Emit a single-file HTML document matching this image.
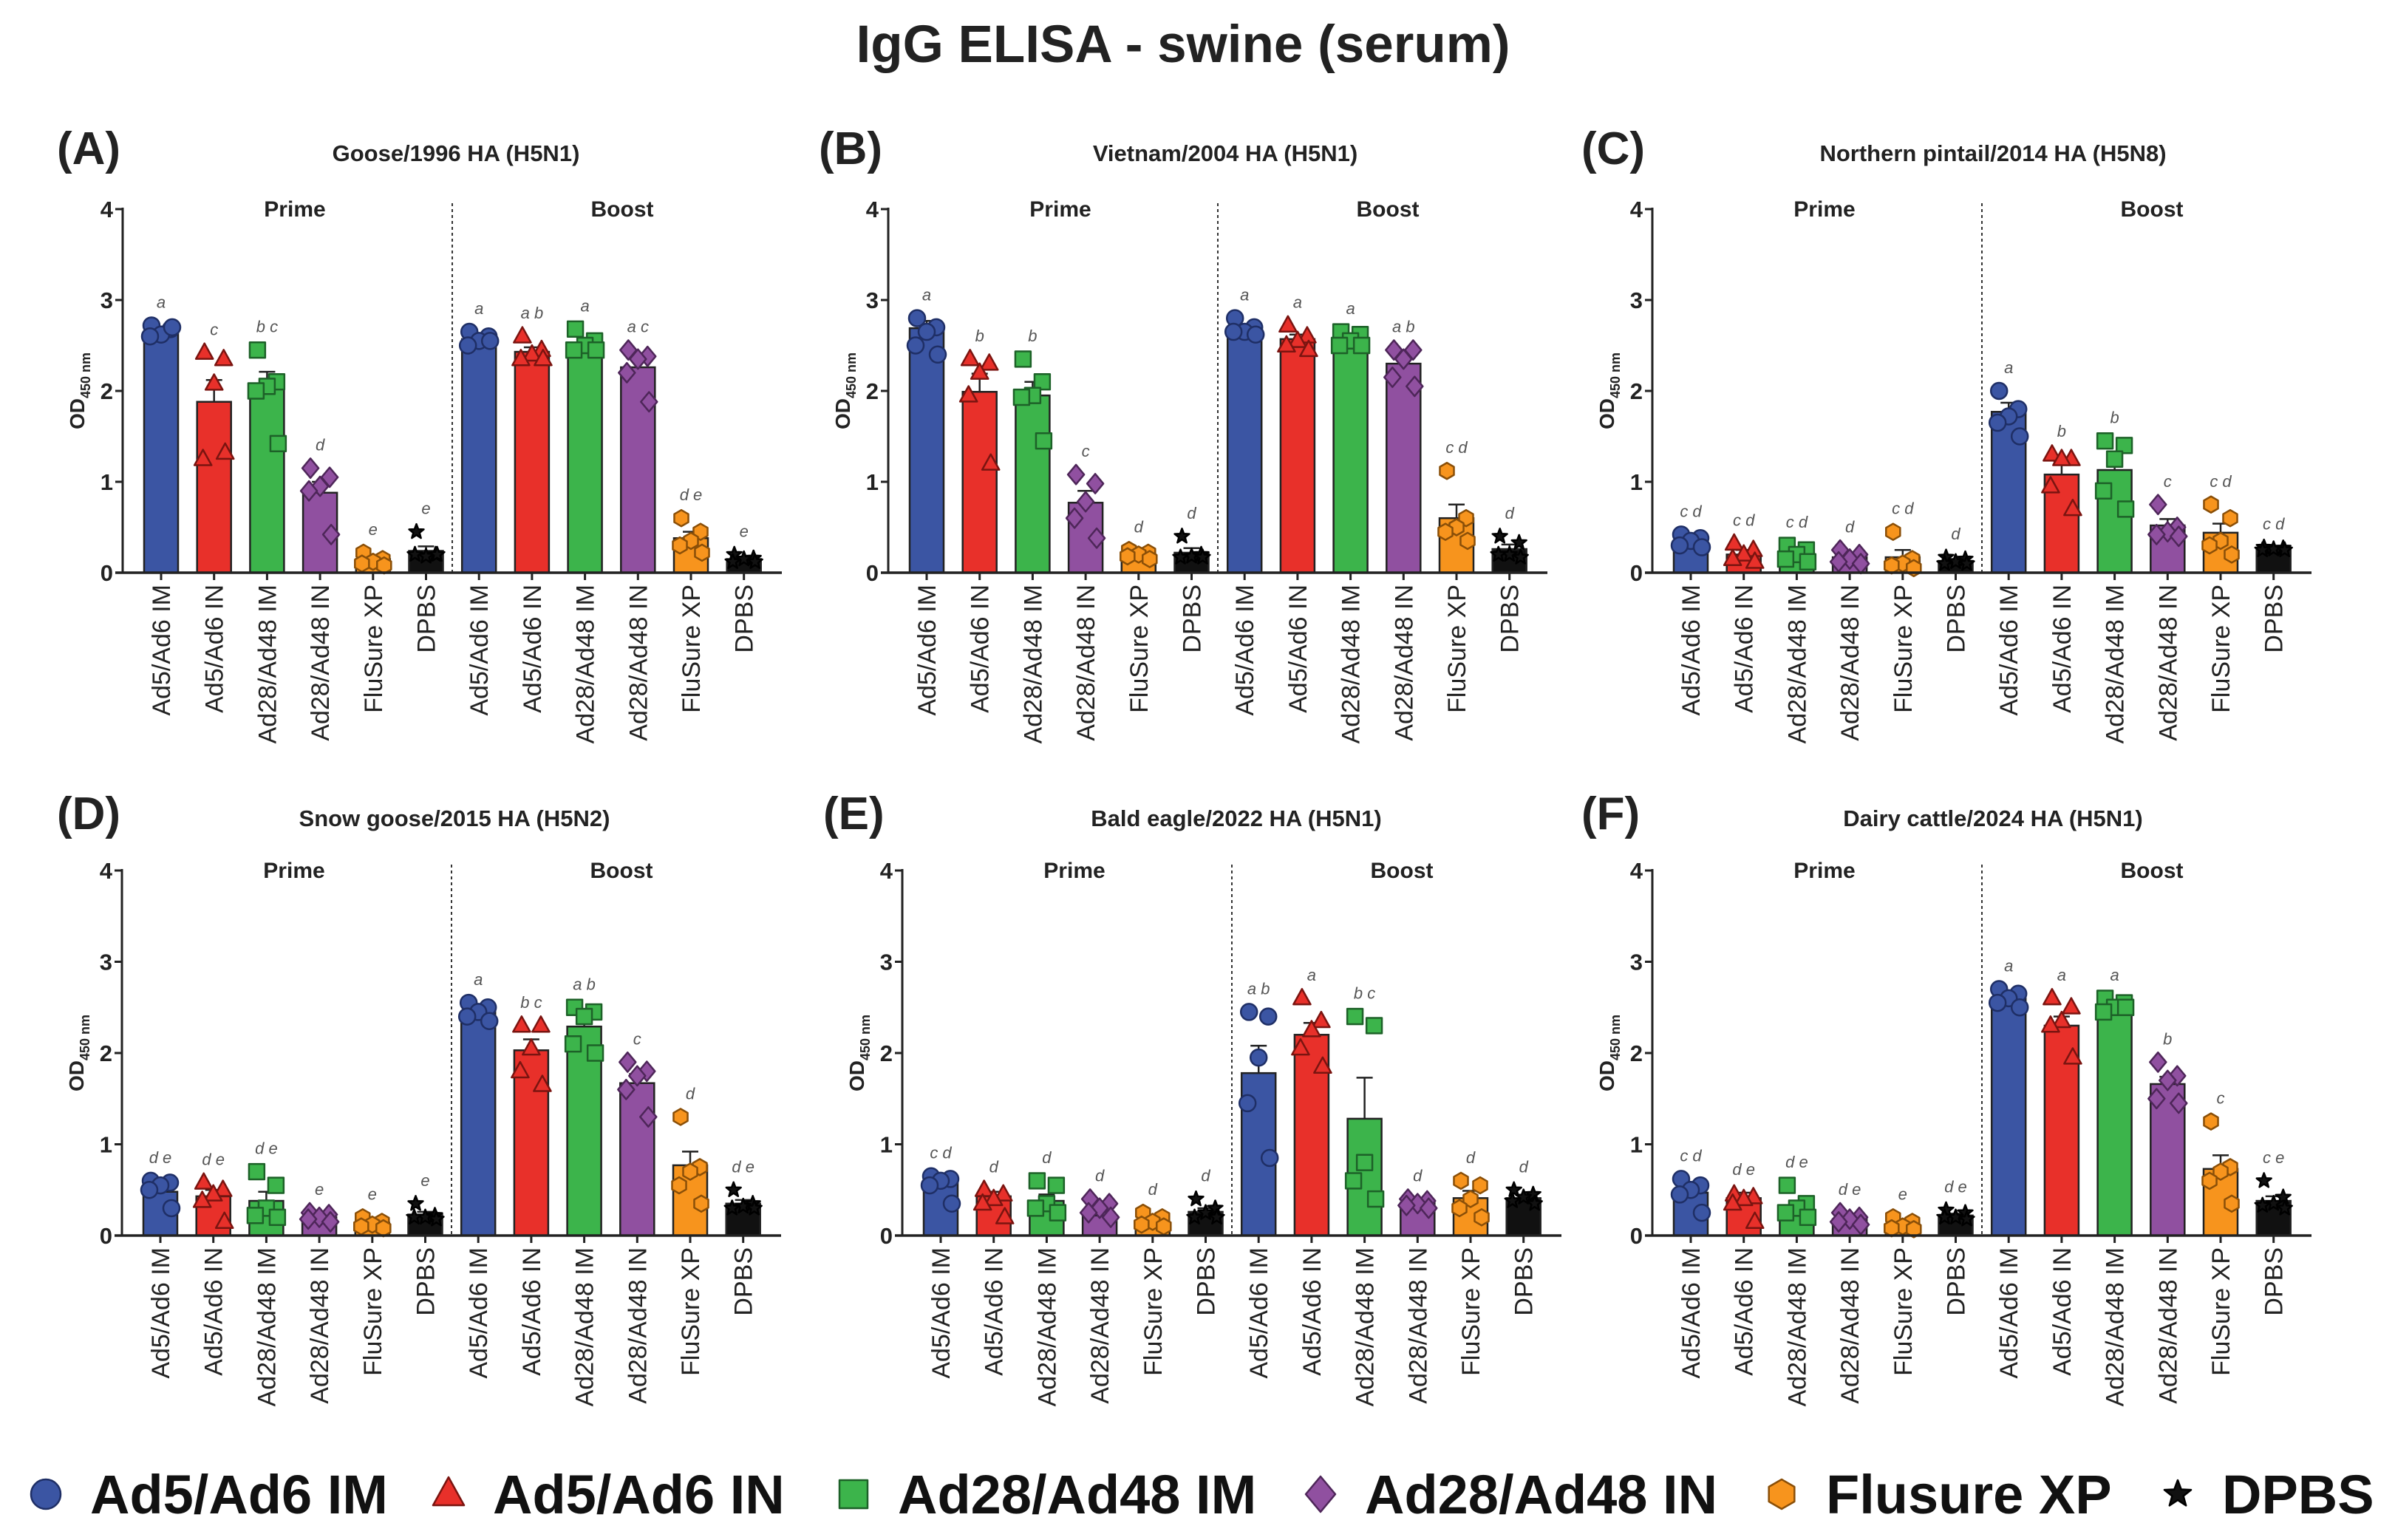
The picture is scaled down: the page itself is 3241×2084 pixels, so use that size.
<!DOCTYPE html>
<html><head><meta charset="utf-8">
<style>
html,body{margin:0;padding:0;background:#fff;}
svg{display:block;font-family:"Liberation Sans",Arial,sans-serif;}
</style></head>
<body>
<svg id="chart" width="3241" height="2084" viewBox="0 0 3241 2084" xmlns="http://www.w3.org/2000/svg">
<rect x="0" y="0" width="3241" height="2084" fill="#fff"/>
<text x="1601" y="84" text-anchor="middle" font-size="71" font-weight="bold" fill="#222">IgG ELISA - swine (serum)</text>
<g id="panels"></g>
<g id="legend"></g>
</svg>
<script>
const categories = ["Ad5/Ad6 IM","Ad5/Ad6 IN","Ad28/Ad48 IM","Ad28/Ad48 IN","FluSure XP","DPBS","Ad5/Ad6 IM","Ad5/Ad6 IN","Ad28/Ad48 IM","Ad28/Ad48 IN","FluSure XP","DPBS"];
const yTicks = [0,1,2,3,4];
const panelLabels = ["(A)","(B)","(C)","(D)","(E)","(F)"];
const panelTitles = ["Goose/1996 HA (H5N1)","Vietnam/2004 HA (H5N1)","Northern pintail/2014 HA (H5N8)","Snow goose/2015 HA (H5N2)","Bald eagle/2022 HA (H5N1)","Dairy cattle/2024 HA (H5N1)"];

const meansA = [2.66,1.88,2.05,0.88,0.15,0.24,2.57,2.43,2.50,2.26,0.38,0.15];
const meansB = [2.69,1.99,1.95,0.77,0.20,0.22,2.68,2.57,2.57,2.30,0.60,0.26];
const meansC = [0.35,0.20,0.20,0.17,0.17,0.13,1.77,1.08,1.13,0.52,0.44,0.26];
const meansD = [0.48,0.43,0.38,0.20,0.14,0.23,2.45,2.03,2.29,1.67,0.77,0.35];
const meansE = [0.58,0.43,0.38,0.22,0.14,0.26,1.78,2.20,1.28,0.36,0.41,0.41];
const meansF = [0.47,0.41,0.32,0.18,0.12,0.22,2.60,2.30,2.52,1.66,0.73,0.38];

const semA = [0.04,0.24,0.16,0.12,0.03,0.05,0.03,0.05,0.05,0.10,0.07,0.02];
const semB = [0.08,0.20,0.15,0.13,0.02,0.05,0.04,0.05,0.03,0.09,0.15,0.05];
const semC = [0.04,0.05,0.05,0.04,0.08,0.02,0.10,0.14,0.16,0.07,0.10,0.01];
const semD = [0.05,0.07,0.10,0.02,0.02,0.03,0.04,0.12,0.10,0.10,0.15,0.04];
const semE = [0.06,0.05,0.07,0.04,0.03,0.04,0.30,0.13,0.45,0.02,0.08,0.03];
const semF = [0.05,0.06,0.06,0.03,0.02,0.02,0.04,0.10,0.05,0.08,0.15,0.05];

const pointsA = [[2.72,2.68,2.62,2.60,2.70],[2.42,2.35,2.08,1.25,1.32],[2.45,2.10,2.05,2.00,1.42],[1.15,1.05,0.95,0.90,0.42],[0.22,0.15,0.12,0.10,0.08],[0.45,0.20,0.18,0.20,0.20],[2.65,2.60,2.55,2.50,2.55],[2.60,2.45,2.40,2.35,2.35],[2.68,2.55,2.50,2.45,2.45],[2.45,2.38,2.35,2.20,1.88],[0.60,0.45,0.35,0.30,0.22],[0.20,0.16,0.15,0.12,0.12]];
const pointsB = [[2.80,2.70,2.65,2.50,2.40],[2.35,2.30,2.20,1.95,1.20],[2.35,2.10,1.95,1.93,1.45],[1.08,0.98,0.78,0.60,0.38],[0.25,0.22,0.20,0.18,0.15],[0.40,0.20,0.18,0.17,0.17],[2.80,2.70,2.65,2.65,2.62],[2.72,2.60,2.55,2.50,2.45],[2.65,2.62,2.55,2.50,2.50],[2.45,2.45,2.35,2.15,2.05],[1.12,0.60,0.50,0.45,0.35],[0.40,0.33,0.20,0.20,0.17]];
const pointsC = [[0.42,0.38,0.35,0.30,0.28],[0.32,0.25,0.20,0.15,0.12],[0.30,0.25,0.20,0.15,0.12],[0.25,0.20,0.15,0.12,0.10],[0.45,0.15,0.10,0.08,0.05],[0.17,0.15,0.12,0.10,0.10],[2.00,1.80,1.72,1.65,1.50],[1.30,1.25,1.25,0.95,0.70],[1.45,1.40,1.25,0.90,0.70],[0.75,0.50,0.45,0.42,0.40],[0.75,0.60,0.35,0.30,0.20],[0.28,0.27,0.26,0.25,0.25]];
const pointsD = [[0.60,0.58,0.55,0.50,0.30],[0.58,0.50,0.45,0.38,0.15],[0.70,0.55,0.30,0.22,0.20],[0.25,0.23,0.20,0.18,0.15],[0.20,0.15,0.12,0.10,0.08],[0.35,0.22,0.20,0.20,0.18],[2.55,2.50,2.45,2.40,2.35],[2.30,2.30,2.05,1.80,1.65],[2.50,2.45,2.40,2.10,2.00],[1.90,1.80,1.75,1.60,1.30],[1.30,0.75,0.70,0.55,0.35],[0.50,0.35,0.32,0.30,0.30]];
const pointsE = [[0.65,0.62,0.60,0.55,0.35],[0.50,0.45,0.40,0.35,0.20],[0.60,0.55,0.35,0.30,0.25],[0.40,0.35,0.30,0.25,0.20],[0.25,0.20,0.15,0.12,0.10],[0.40,0.30,0.25,0.20,0.20],[2.45,2.40,1.95,1.45,0.85],[2.60,2.35,2.25,2.05,1.85],[2.40,2.30,0.80,0.60,0.40],[0.40,0.38,0.35,0.33,0.30],[0.60,0.55,0.40,0.30,0.20],[0.50,0.45,0.42,0.38,0.35]];
const pointsF = [[0.62,0.55,0.50,0.45,0.25],[0.45,0.42,0.40,0.35,0.15],[0.55,0.35,0.30,0.25,0.20],[0.25,0.20,0.18,0.15,0.12],[0.20,0.15,0.10,0.08,0.07],[0.28,0.25,0.20,0.20,0.18],[2.70,2.65,2.60,2.55,2.50],[2.60,2.50,2.35,2.30,1.95],[2.60,2.55,2.50,2.45,2.50],[1.90,1.75,1.70,1.50,1.45],[1.25,0.75,0.70,0.60,0.35],[0.60,0.42,0.35,0.33,0.30]];

const lettersA = ["a","c","b c","d","e","e","a","a b","a","a c","d e","e"];
const lettersB = ["a","b","b","c","d","d","a","a","a","a b","c d","d"];
const lettersC = ["c d","c d","c d","d","c d","d","a","b","b","c","c d","c d"];
const lettersD = ["d e","d e","d e","e","e","e","a","b c","a b","c","d","d e"];
const lettersE = ["c d","d","d","d","d","d","a b","a","b c","d","d","d"];
const lettersF = ["c d","d e","d e","d e","e","d e","a","a","a","b","c","c e"];

const allMeans = [meansA,meansB,meansC,meansD,meansE,meansF];
const allSem = [semA,semB,semC,semD,semE,semF];
const allPoints = [pointsA,pointsB,pointsC,pointsD,pointsE,pointsF];
const allLetters = [lettersA,lettersB,lettersC,lettersD,lettersE,lettersF];

const NS = "http://www.w3.org/2000/svg";
const colors = ["#3b55a3","#e8302a","#3cb44b","#9050a0","#f7941d","#111111"];
const strokes = ["#1f2f66","#7a1410","#1d6128","#4e2659","#8a4f08","#000000"];
const markerTypes = ["circle","triangle","square","diamond","hexagon","star"];
const layout = [
  {ax:166, y0:775, y4:283, lx:77, ly:222, tx:617},
  {ax:1202, y0:775, y4:283, lx:1108, ly:222, tx:1658},
  {ax:2236, y0:775, y4:283, lx:2140, ly:222, tx:2697},
  {ax:165, y0:1672, y4:1178, lx:77, ly:1122, tx:615},
  {ax:1221, y0:1672, y4:1178, lx:1114, ly:1122, tx:1673},
  {ax:2236, y0:1672, y4:1178, lx:2140, ly:1122, tx:2697}
];
const jitter = [-13,13,0,-15,15];

function el(tag, attrs, parent){
  const e = document.createElementNS(NS, tag);
  for (const k in attrs) e.setAttribute(k, attrs[k]);
  parent.appendChild(e);
  return e;
}
function markerPath(type, cx, cy, s){
  if (type==="triangle") return `M${cx},${cy-s*1.15} L${cx+s*1.05},${cy+s*0.75} L${cx-s*1.05},${cy+s*0.75} Z`;
  if (type==="square") return `M${cx-s*0.95},${cy-s*0.95} h${s*1.9} v${s*1.9} h${-s*1.9} Z`;
  if (type==="diamond") return `M${cx},${cy-s*1.2} L${cx+s},${cy} L${cx},${cy+s*1.2} L${cx-s},${cy} Z`;
  if (type==="hexagon"){let p="";for(let i=0;i<6;i++){const a=Math.PI/3*i+Math.PI/6;p+=(i?"L":"M")+(cx+s*Math.cos(a))+","+(cy+s*Math.sin(a));}return p+"Z";}
  if (type==="star"){let p="";for(let i=0;i<10;i++){const r=i%2?s*0.4:s*0.95;const a=-Math.PI/2+Math.PI/5*i;p+=(i?"L":"M")+(cx+r*Math.cos(a))+","+(cy+r*Math.sin(a));}return p+"Z";}
  return "";
}
function drawMarker(type, cx, cy, s, fill, stroke, parent){
  let m;
  if (type==="circle") m = el("circle",{cx:cx,cy:cy,r:s,fill:fill,stroke:stroke,"stroke-width":2.5},parent);
  else m = el("path",{d:markerPath(type,cx,cy,s),fill:fill,stroke:stroke,"stroke-width":2.5,"stroke-linejoin":"round"},parent);
  return m;
}

const panelsG = document.getElementById("panels");
layout.forEach((L, p) => {
  const g = el("g",{},panelsG);
  
  
  const unit = (L.y0 - L.y4) / 4;
  const yS = v => L.y0 - v * unit;
  const xS = i => L.ax + 52 + i * 71.7;
  const bw = 46;

  const lab = el("text",{x:L.lx,y:L.ly,"font-size":62,"font-weight":"bold",fill:"#222"},g);
  lab.textContent = panelLabels[p];
  
  
  const tt = el("text",{x:L.tx,y:L.ly-4,"text-anchor":"middle","font-size":31,"font-weight":"bold",fill:"#222"},g);
  tt.textContent = panelTitles[p];
  
  

  const pr = el("text",{x:L.ax+233,y:L.y4+10,"text-anchor":"middle","font-size":30,"font-weight":"bold",fill:"#222"},g);
  pr.textContent = "Prime";
  
  
  const bo = el("text",{x:L.ax+676,y:L.y4+10,"text-anchor":"middle","font-size":30,"font-weight":"bold",fill:"#222"},g);
  bo.textContent = "Boost";
  
  

  const dv = el("line",{x1:L.ax+446,x2:L.ax+446,y1:L.y4-8,y2:L.y0,stroke:"#333","stroke-width":2,"stroke-dasharray":"4,4"},g);
  
  

  const ya = el("line",{x1:L.ax,x2:L.ax,y1:yS(4)-2,y2:L.y0,stroke:"#222","stroke-width":3},g);
  
  
  yTicks.forEach(t => {
    el("line",{x1:L.ax-10,x2:L.ax,y1:yS(t),y2:yS(t),stroke:"#222","stroke-width":3},g);
    const tl = el("text",{x:L.ax-13,y:yS(t)+11,"text-anchor":"end","font-size":31,"font-weight":"bold",fill:"#222"},g);
    tl.textContent = t;
    
    
  });
  const yt = el("text",{transform:`translate(${L.ax-52},${(L.y0+L.y4)/2}) rotate(-90)`,"text-anchor":"middle","font-size":28,"font-weight":"bold",fill:"#222"},g);
  yt.innerHTML = 'OD<tspan font-size="18" dy="8">450 nm</tspan>';
  
  

  const means = allMeans[p], sem = allSem[p], pts = allPoints[p], lets = allLetters[p];
  categories.forEach((c, i) => {
    const gi = i % 6;
    const cx = xS(i);
    const bar = el("rect",{x:cx-bw/2,y:yS(means[i]),width:bw,height:L.y0-yS(means[i]),fill:colors[gi],stroke:"#222","stroke-width":2.5},g);
    
    
    const top = yS(means[i] + sem[i]);
    el("line",{x1:cx,x2:cx,y1:yS(means[i]),y2:top,stroke:"#222","stroke-width":2.5},g);
    el("line",{x1:cx-11,x2:cx+11,y1:top,y2:top,stroke:"#222","stroke-width":2.5},g);
    let maxV = means[i] + sem[i];
    pts[i].forEach((v, k) => {
      if (v > maxV) maxV = v;
      const m = drawMarker(markerTypes[gi], cx + jitter[k], yS(v), 11, colors[gi], strokes[gi], g);
      
      
    });
    const lt = el("text",{x:cx,y:yS(maxV)-24,"text-anchor":"middle","font-size":22,"font-style":"italic",fill:"#555"},g);
    lt.textContent = lets[i];
    
    
    el("line",{x1:cx,x2:cx,y1:L.y0,y2:L.y0+10,stroke:"#222","stroke-width":3},g);
    const xl = el("text",{transform:`translate(${cx+12},${L.y0+16}) rotate(-90)`,"text-anchor":"end","font-size":34,fill:"#222"},g);
    xl.textContent = c;
    
    
  });
  const xa = el("line",{x1:L.ax-10,x2:L.ax+892,y1:L.y0,y2:L.y0,stroke:"#222","stroke-width":3.5},g);
  
  
});

const legendNames = ["Ad5/Ad6 IM","Ad5/Ad6 IN","Ad28/Ad48 IM","Ad28/Ad48 IN","Flusure XP","DPBS"];
const legendMarkerX = [62,607,1155,1787,2411,2947];
const legendG = document.getElementById("legend");
legendNames.forEach((n, i) => {
  const item = el("g",{},legendG);
  
  
  drawMarker(markerTypes[i], legendMarkerX[i], 2022, 20, colors[i], strokes[i], item);
  const t = el("text",{x:legendMarkerX[i]+60,y:2048,"font-size":74,"font-weight":"bold",fill:"#111"},item);
  t.textContent = n;
});
</script>
</body></html>
